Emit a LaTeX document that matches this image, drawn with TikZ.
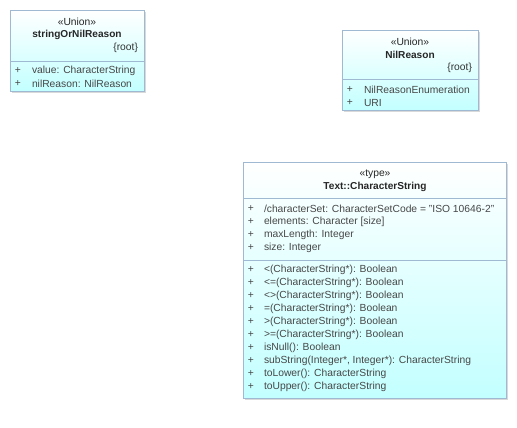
\documentclass[tikz,border=0pt]{standalone}
\usepackage{fontspec}
\setmainfont{Liberation Sans}
\begin{document}
\begin{tikzpicture}[x=1pt,y=-1pt,
  every node/.style={inner sep=0pt,outer sep=0pt,font=\fontsize{10.3}{12}\selectfont},
  txt/.style={anchor=west,text=black!72},
  plus/.style={anchor=center,text=black!72},
  stereo/.style={anchor=center,text=black!85},
  cname/.style={anchor=center,font=\fontsize{10.1}{12}\selectfont\bfseries,text=black!85},
  root/.style={anchor=east,text=black!80},
  sepline/.style={draw={rgb,255:red,160;green,185;blue,210},line width=0.8pt}]
\useasboundingbox (0,0) rectangle (517,428);
\definecolor{bordc}{RGB}{160,185,210}
\definecolor{fillc}{RGB}{195,255,255}
\newcommand{\umlbox}[5]{% x1 y1 x2 y2 name
  \fill[black!15] (#1+2,#2+2) rectangle (#3+2,#4+2);
  \shade[top color=white,bottom color=fillc] (#1,#2) rectangle (#3,#4);
  \draw[bordc,line width=0.8pt] (#1,#2) rectangle (#3,#4);
  \coordinate (#5) at (#1,#2);
}
% Box 1
\umlbox{10}{10}{144}{91}{b1}
\draw[sepline] (10,61) -- (144,61);
\node[stereo] (b1s) at (77,22) {«Union»};
\node[cname] (b1n) at (77,35) {stringOrNilReason};
\node[root] (b1r) at (138,48) {\{root\}};
\node[plus] (b1p1) at (18,71) {+};
\node[txt] (b1a1) at (32,71) {value: CharacterString};
\node[plus] (b1p2) at (18,84) {+};
\node[txt] (b1a2) at (32,84) {nilReason: NilReason};
% Box 2
\umlbox{342}{30}{478}{110}{b2}
\draw[sepline] (342,79) -- (478,79);
\node[stereo] (b2s) at (410,42) {«Union»};
\node[cname] (b2n) at (410,55) {NilReason};
\node[root] (b2r) at (472,68) {\{root\}};
\node[plus] (b2p1) at (350,90) {+};
\node[txt] (b2a1) at (364,90) {NilReasonEnumeration};
\node[plus] (b2p2) at (350,103) {+};
\node[txt] (b2a2) at (364,103) {URI};
% Box 3
\umlbox{243}{162}{506}{398}{b3}
\draw[sepline] (243,198) -- (506,198);
\draw[sepline] (243,260) -- (506,260);
\node[stereo] (b3s) at (375,174) {«type»};
\node[cname] (b3n) at (375,187) {Text::CharacterString};
\foreach \t [count=\i] in {{/characterSet: CharacterSetCode = "ISO 10646-2"},{elements: Character [size]},{maxLength: Integer},{size: Integer}}{
  \node[plus] (b3ap\i) at (251,196+13*\i) {+};
  \node[txt] (b3a\i) at (264,196+13*\i) {\t};
}
\foreach \t [count=\i] in {{<(CharacterString*): Boolean},{<=(CharacterString*): Boolean},{<>(CharacterString*): Boolean},{=(CharacterString*): Boolean},{>(CharacterString*): Boolean},{>=(CharacterString*): Boolean},{isNull(): Boolean},{subString(Integer*, Integer*): CharacterString},{toLower(): CharacterString},{toUpper(): CharacterString}}{
  \node[plus] (b3op\i) at (251,257+13*\i) {+};
  \node[txt] (b3o\i) at (264,257+13*\i) {\t};
}
\end{tikzpicture}
\end{document}
